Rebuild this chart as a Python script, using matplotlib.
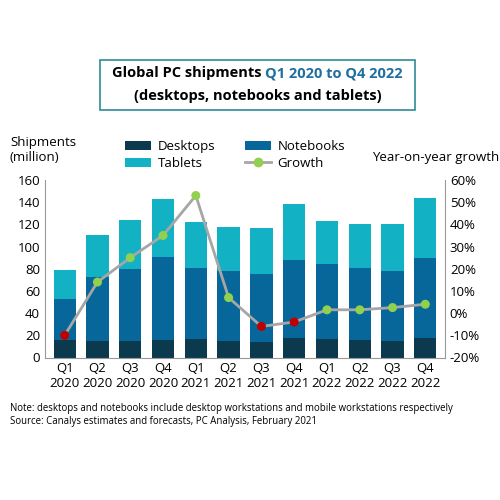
import matplotlib.pyplot as plt
import numpy as np
from matplotlib.ticker import FuncFormatter

quarters = ["Q1\n2020", "Q2\n2020", "Q3\n2020", "Q4\n2020", "Q1\n2021", "Q2\n2021",
            "Q3\n2021", "Q4\n2021", "Q1\n2022", "Q2\n2022", "Q3\n2022", "Q4\n2022"]
desktops = [16, 15, 15, 16, 17, 15, 14, 18, 17, 16, 15, 18]
notebooks = [37, 58, 65, 75, 64, 63, 61, 70, 67, 65, 63, 72]
tablets = [26, 37, 44, 52, 41, 40, 42, 50, 39, 39, 42, 54]
growth = [-10, 14, 25, 35, 53, 7, -6, -4, 1.5, 1.5, 2.5, 4]

C_DESK = "#0b3a4f"
C_NOTE = "#08679a"
C_TAB = "#12b2c4"

plt.rcParams["font.family"] = "Open Sans"
fig = plt.figure(figsize=(5, 5), dpi=100)
ax = fig.add_axes([0.09, 0.285, 0.80, 0.355])
x = np.arange(len(quarters))
d = np.array(desktops); n = np.array(notebooks); t = np.array(tablets)
ax.bar(x, d, 0.68, color=C_DESK, label="Desktops")
ax.bar(x, n, 0.68, bottom=d, color=C_NOTE, label="Notebooks")
ax.bar(x, t, 0.68, bottom=d + n, color=C_TAB, label="Tablets")
ax.set_ylim(0, 160)
ax.set_yticks(range(0, 161, 20))
ax.set_xlim(-0.6, 11.6)
ax.set_xticks(x)
ax.set_xticklabels(quarters, fontsize=9.5)
ax.tick_params(axis="y", labelsize=9.5, length=0)
ax.tick_params(axis="x", length=0)
for s in ["top", "right"]:
    ax.spines[s].set_visible(False)
ax.spines["left"].set_color("#999999")
ax.spines["bottom"].set_color("#999999")

ax2 = ax.twinx()
g = np.array(growth)
ax2.plot(x, g, color="#a6a6a6", lw=2, zorder=3)
cols = ["#c00000" if v < 0 else "#92d050" for v in g]
ax2.scatter(x, g, c=cols, s=30, zorder=4)
ax2.plot([], [], color="#a6a6a6", lw=2, marker="o", mfc="#92d050", mec="#92d050", label="Growth")
ax2.set_ylim(-20, 60)
ax2.set_yticks(range(-20, 61, 10))
ax2.yaxis.set_major_formatter(FuncFormatter(lambda v, p: f"{v:.0f}%"))
ax2.tick_params(axis="y", labelsize=9.5, length=0)
for s in ["top", "left", "bottom"]:
    ax2.spines[s].set_visible(False)
ax2.spines["right"].set_color("#999999")

h1, l1 = ax.get_legend_handles_labels()
h2, l2 = ax2.get_legend_handles_labels()
handles = [h1[0], h1[2], h1[1], h2[0]]
labels = [l1[0], l1[2], l1[1], l2[0]]
fig.legend(handles, labels, loc="center", bbox_to_anchor=(0.47, 0.69), ncol=2,
           frameon=False, fontsize=9.5, handlelength=2.0, columnspacing=2.2,
           handletextpad=0.5, labelspacing=0.3)

fig.text(0.02, 0.70, "Shipments\n(million)", fontsize=9.5, va="center")
fig.text(0.745, 0.685, "Year-on-year growth", fontsize=9.5, va="center")

fig.patches.append(plt.Rectangle((0.2, 0.78), 0.63, 0.1, transform=fig.transFigure,
                                 fill=False, edgecolor="#2f8a9a", lw=1.2))
fig.canvas.draw()
r = fig.canvas.get_renderer()
t1 = fig.text(0, 0.853, "Global PC shipments ", fontsize=10.5, fontweight="bold", va="center")
t2 = fig.text(0, 0.853, "Q1 2020 to Q4 2022", fontsize=10.5, fontweight="bold", color="#1f6f9f", va="center")
w1 = t1.get_window_extent(r).width / fig.bbox.width
w2 = t2.get_window_extent(r).width / fig.bbox.width
x0 = 0.515 - (w1 + w2) / 2
t1.set_x(x0)
t2.set_x(x0 + w1)
fig.text(0.515, 0.808, "(desktops, notebooks and tablets)", fontsize=10.5, fontweight="bold", ha="center", va="center")

fig.text(0.02, 0.17, "Note: desktops and notebooks include desktop workstations and mobile workstations respectively\n"
         "Source: Canalys estimates and forecasts, PC Analysis, February 2021", fontsize=6.9, va="center")

fig.savefig("out.png", dpi=100)
